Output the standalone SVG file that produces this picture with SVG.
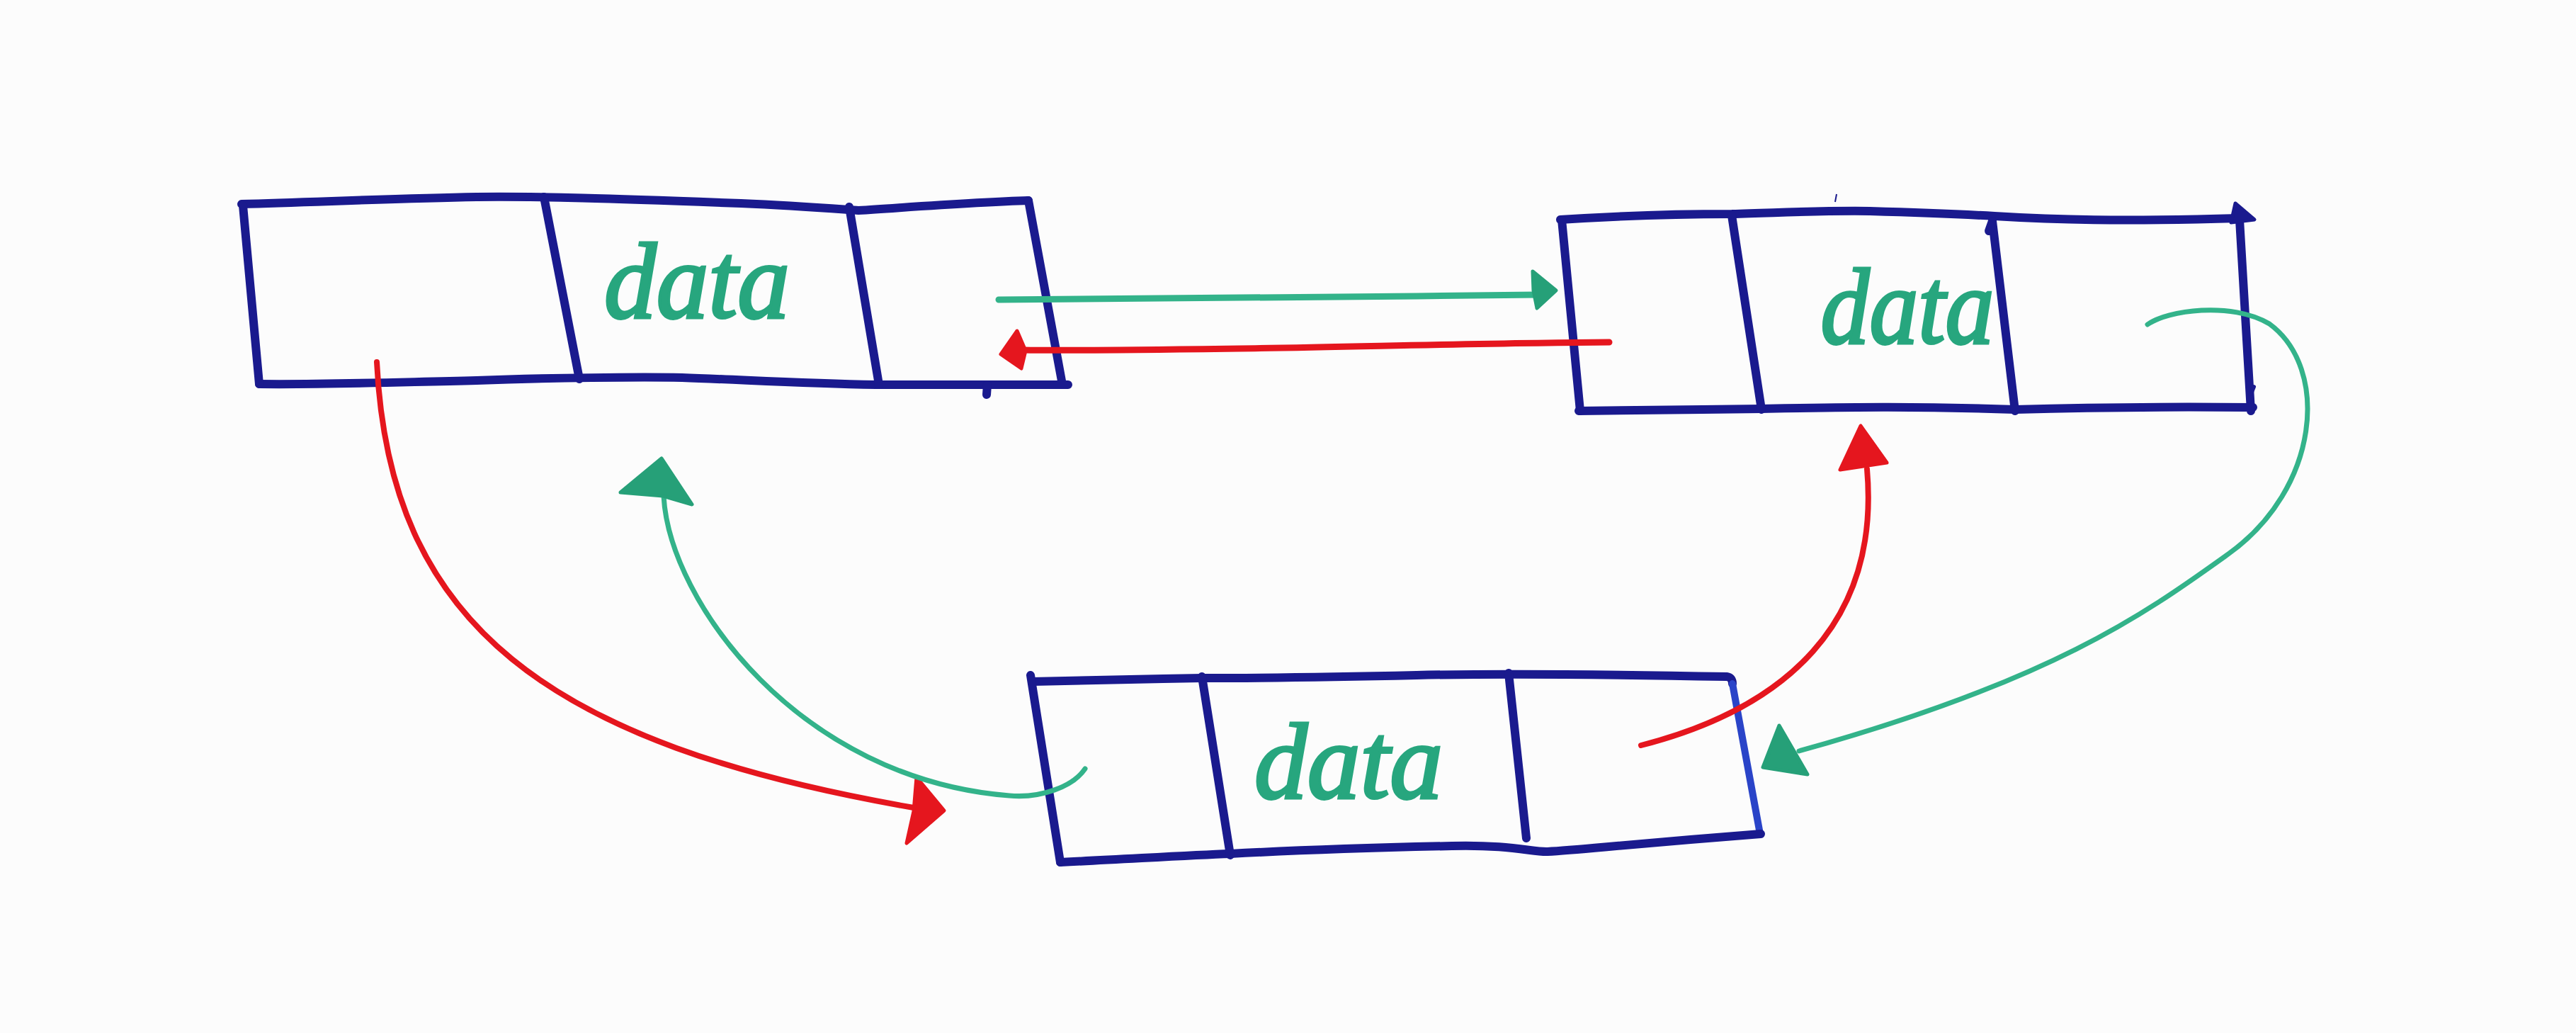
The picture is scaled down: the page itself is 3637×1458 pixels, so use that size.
<svg xmlns="http://www.w3.org/2000/svg" width="3637" height="1458" viewBox="0 0 3637 1458">
<style>
.box{fill:none;stroke:#1a1a8e;stroke-width:12;stroke-linecap:round;stroke-linejoin:round}
.box2{fill:none;stroke:#2a44c8;stroke-width:10;stroke-linecap:round}
.red{fill:none;stroke:#e5161e;stroke-width:8;stroke-linecap:round;stroke-linejoin:round}
.grn{fill:none;stroke:#33b38a;stroke-width:7;stroke-linecap:round;stroke-linejoin:round}
.redh{fill:#e5161e;stroke:#e5161e;stroke-width:5;stroke-linejoin:round}
.grnh{fill:#26a078;stroke:#26a078;stroke-width:5;stroke-linejoin:round}
.lbl{font-family:"Liberation Serif",serif;font-style:italic;font-size:152px;fill:#27a67e;stroke:#27a67e;stroke-width:4}
</style>
<rect width="3637" height="1458" fill="#fcfcfc"/>
<g id="node1">
<path class="box" d="M341,288 C450,285 560,280 673,278 C760,277 860,280 1046,287 C1120,290 1170,294 1212,297 C1290,292 1380,285 1452,283"/>
<path class="box" d="M1452,283 L1500,543"/>
<path class="box" d="M366,542 C466,543 540,540 673,537 C780,533 900,532 963,533 C1050,536 1130,541 1237,543 L1508,543"/>
<path class="box" d="M343,290 L366,542"/>
<path class="box" d="M768,278 L818,535"/>
<path class="box" d="M1199,292 L1241,543"/>
<path class="box" d="M1394,543 L1393,557"/>
<text class="lbl" x="984" y="448" text-anchor="middle" textLength="262" lengthAdjust="spacingAndGlyphs">data</text>
</g>
<g id="node2">
<path class="box" d="M2203,310 C2280,305 2360,302 2445,302 C2520,300 2571,297 2640,298 C2711,300 2780,303 2816,305 C2900,310 2992,313 3160,308"/>
<path class="box" d="M3162,310 L3178,580"/>
<polygon points="3156,287 3183,310 3150,314" fill="#1a1a8e" stroke="#1a1a8e" stroke-width="5" stroke-linejoin="round"/>
<path class="box" d="M2229,580 C2300,579 2400,578 2487,577 C2600,575 2700,573 2845,578 C2950,575 3080,574 3181,575"/>
<path class="box" d="M2205,310 L2231,580"/>
<path class="box" d="M2445,304 L2487,578"/>
<path class="box" d="M2813,312 L2845,580"/>
<path class="box" d="M2813,312 L2808,326"/>
<path class="box" d="M3178,556 L3182,546" style="stroke-width:6"/>
<path d="M2591,285 L2593,274" stroke="#1a1a8e" stroke-width="2" fill="none"/>
<text class="lbl" x="2693" y="484" text-anchor="middle" textLength="245" lengthAdjust="spacingAndGlyphs">data</text>
</g>
<g id="node3">
<path class="box" d="M1458,962 C1550,960 1620,958 1697,957 C1800,957 1913,955 2000,953 C2133,950 2280,952 2438,955 Q2446,956 2446,965"/>
<path class="box2" d="M2446,965 L2485,1177"/>
<path class="box" d="M1497,1217 C1600,1212 1680,1207 1737,1205 C1830,1200 1913,1197 2050,1194 C2133,1192 2165,1203 2185,1202 C2230,1200 2280,1193 2486,1177"/>
<path class="box" d="M1455,953 L1497,1217"/>
<path class="box" d="M1697,955 L1737,1207"/>
<path class="box" d="M2130,950 L2155,1183"/>
<text class="lbl" x="1904" y="1126" text-anchor="middle" textLength="266" lengthAdjust="spacingAndGlyphs">data</text>
</g>
<g id="connectors">
<path class="grn" style="stroke-width:9" d="M1410,423 C1600,420 1800,418 2000,418 C2100,417 2150,416 2170,416"/>
<polygon class="grnh" points="2164,383 2197,410 2170,435 2165,410"/>
<path class="red" style="stroke-width:9" d="M2272,483 C2100,484 1900,490 1750,492 C1600,494 1500,495 1445,494"/>
<polygon class="redh" points="1436,467 1413,500 1442,520 1448,495"/>
<path class="red" d="M532,511 C550,880 770,1050 1290,1140"/>
<polygon class="redh" points="1294,1097 1333,1144 1280,1190 1290,1145"/>
<path class="grn" d="M937,700 C945,850 1130,1100 1425,1123 C1470,1127 1515,1110 1532,1085"/>
<polygon class="grnh" points="934,647 977,712 936,700 876,695"/>
<path class="red" d="M2317,1052 C2520,1000 2655,880 2636,662"/>
<polygon class="redh" points="2627,601 2598,663 2664,653"/>
<path class="grn" d="M3032,458 C3060,438 3150,425 3204,457 C3290,520 3275,690 3146,782 C3030,865 2900,960 2540,1060"/>
<polygon class="grnh" points="2512,1024 2489,1083 2552,1093"/>
</g>
</svg>
